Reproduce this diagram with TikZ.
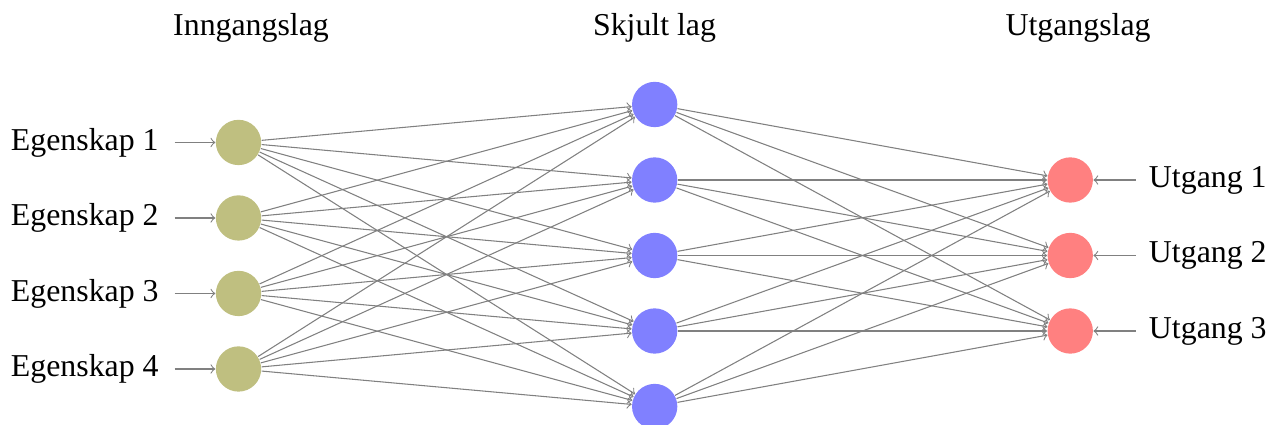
\documentclass[tikz,border=0pt]{standalone}
\usepackage{fontspec}
\setmainfont{Liberation Serif}
\usetikzlibrary{positioning}
\definecolor{inFill}{HTML}{BFBF80}
\definecolor{hidFill}{HTML}{8080FF}
\definecolor{outFill}{HTML}{FF8080}
\definecolor{edgegray}{HTML}{808080}
\tikzset{
  font=\fontsize{12}{14}\selectfont,
  neuron/.style={circle, minimum size=0.6cm, inner sep=0pt},
  inneuron/.style={neuron, fill=inFill},
  hidneuron/.style={neuron, fill=hidFill},
  outneuron/.style={neuron, fill=outFill},
  synapse/.style={->, draw=edgegray, line width=0.4pt},
  feed/.style={->, draw=edgegray, line width=0.4pt},
  featlabel/.style={inner xsep=5.8pt},
  reslabel/.style={inner xsep=4.8pt},
  layertitle/.style={text=black},
}

\begin{document}
\begin{tikzpicture}
  \useasboundingbox (0,0) rectangle (16.781,-5.629);

  % --- layer titles ---
  \node[layertitle] (t-in)  at (3.325, -0.37)  {Inngangslag};
  \node[layertitle] (t-hid) at (8.669, -0.37)  {Skjult lag};
  \node[layertitle] (t-out) at (14.278, -0.37) {Utgangslag};

  % --- input layer ---
  \node[inneuron] (in-1) at (3.159, -1.887) {};
  \node[inneuron] (in-2) at (3.159, -2.887) {};
  \node[inneuron] (in-3) at (3.159, -3.887) {};
  \node[inneuron] (in-4) at (3.159, -4.887) {};

  % --- hidden layer ---
  \node[hidneuron] (hid-1) at (8.671, -1.384) {};
  \node[hidneuron] (hid-2) at (8.671, -2.384) {};
  \node[hidneuron] (hid-3) at (8.671, -3.384) {};
  \node[hidneuron] (hid-4) at (8.671, -4.384) {};
  \node[hidneuron] (hid-5) at (8.671, -5.384) {};

  % --- output layer ---
  \node[outneuron] (out-1) at (14.175, -2.384) {};
  \node[outneuron] (out-2) at (14.175, -3.384) {};
  \node[outneuron] (out-3) at (14.175, -4.384) {};

  % --- feature labels (left) and output labels (right) ---
  \foreach \i in {1,...,4} {
    \node[featlabel, left=0.54cm of in-\i] (feat-\i) {Egenskap \i};
    \draw[feed] (feat-\i) -- (in-\i);
  }
  \foreach \k in {1,...,3} {
    \node[reslabel, right=0.56cm of out-\k] (res-\k) {Utgang \k};
    \draw[feed] (res-\k) -- (out-\k);
  }

  % --- connections ---
  \foreach \i in {1,...,4}
    \foreach \j in {1,...,5}
      \draw[synapse] (in-\i) -- (hid-\j);
  \foreach \j in {1,...,5}
    \foreach \k in {1,...,3}
      \draw[synapse] (hid-\j) -- (out-\k);
\end{tikzpicture}
\end{document}
